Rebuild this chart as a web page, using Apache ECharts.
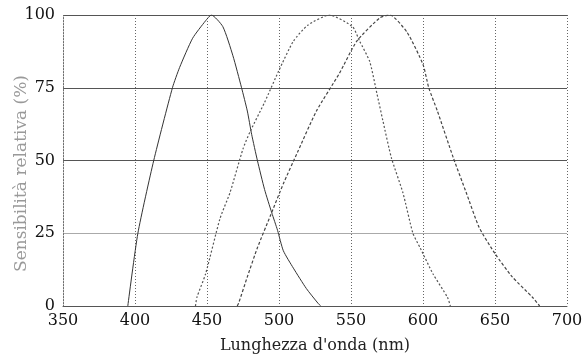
<!DOCTYPE html>
<html>
<head>
<meta charset="utf-8">
<script src="https://cdn.jsdelivr.net/npm/echarts@6/dist/echarts.min.js"></script>
<style>
  html, body { margin: 0; padding: 0; background: #fff; }
  #chart { width: 583px; height: 355px; }
</style>
</head>
<body>
<div id="chart"></div>
<script>
// curve points: [wavelength nm, relative sensitivity %]
var coniS = [[395,0],[402,25],[413,50],[426,75],[431,82],[440,92],[449,98],[453,100],[461,96],[468,86],[474,75],[478,67],[481,59],[485,50],[490,40],[495,32],[499,26],[503,19],[510,13],[519,6],[527,1],[529,0]];
var coniM = [[442,0],[443,3],[449,11],[459,30],[466,39],[475,54],[480,60],[490,70],[500,81],[510,91],[520,96.5],[535,100],[551,96],[556,91],[563,84],[568,73],[572,64],[578,51],[586,39],[593,25],[598,20],[607,11],[617,3],[619,0]];
var coniL = [[471,0],[472,1],[478,10],[485,20],[494,31],[503,42],[513,53],[526,67],[542,80],[554,91],[570,99],[577,100],[589,94],[600,83],[604,75],[610,67],[621,51],[630,39],[639,27],[650,18],[662,10],[676,3],[681,0]];

var font = "DejaVu Serif";

var chartDom = document.getElementById("chart");
var myChart = echarts.init(chartDom, null, { renderer: "canvas" });
var option = {
  animation: false,
  backgroundColor: "#fff",
  grid: { left: 63, right: 16, top: 15, bottom: 49, outerBoundsMode: "none" },
  xAxis: {
    type: "value",
    min: 350,
    max: 700,
    interval: 50,
    name: "Lunghezza d'onda (nm)",
    nameLocation: "center",
    nameGap: 32,
    nameTextStyle: { fontFamily: font, fontSize: 16, color: "#222" },
    axisLine: { show: true, lineStyle: { color: "#555", width: 1 } },
    axisTick: { show: false },
    axisLabel: { fontFamily: font, fontSize: 16, color: "#111", margin: 7 },
    splitLine: { show: true, lineStyle: { color: "#666", type: [1, 2], width: 1 } }
  },
  yAxis: {
    type: "value",
    min: 0,
    max: 100,
    interval: 25,
    name: "Sensibilità relativa (%)",
    nameLocation: "center",
    nameGap: 33,
    nameMoveOverlap: false,
    nameTextStyle: { fontFamily: font, fontSize: 17, color: "#999", padding: [0, 26, 0, 0] },
    axisLine: { show: true, lineStyle: { color: "#777", type: [1, 2], width: 1 } },
    axisTick: { show: false },
    axisLabel: { fontFamily: font, fontSize: 16, color: "#111", margin: 8 },
    splitLine: { show: true, lineStyle: { color: ["#555", "#aaa", "#555", "#555", "#555"], width: 1 } }
  },
  series: [
    {
      name: "S",
      type: "line",
      data: coniS,
      smooth: 0.2,
      showSymbol: false,
      lineStyle: { color: "#333", width: 1 }
    },
    {
      name: "M",
      type: "line",
      data: coniM,
      smooth: 0.2,
      showSymbol: false,
      lineStyle: { color: "#555", width: 1.2, type: [2, 2] }
    },
    {
      name: "L",
      type: "line",
      data: coniL,
      smooth: 0.2,
      showSymbol: false,
      lineStyle: { color: "#444", width: 1.2, type: [3, 2] }
    }
  ]
};
option && myChart.setOption(option);
</script>
</body>
</html>
